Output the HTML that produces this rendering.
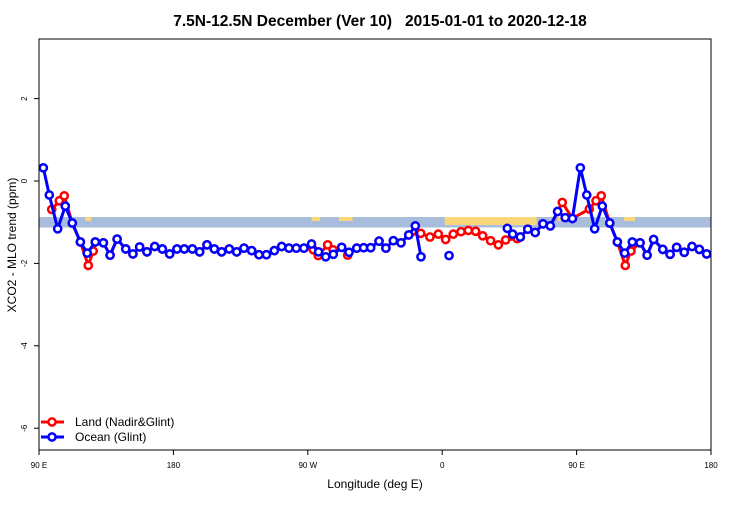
<!DOCTYPE html>
<html><head><meta charset="utf-8"><style>
body{margin:0;background:#fff;}
svg{font-family:"Liberation Sans",sans-serif;}
</style></head><body>
<svg id="chart" width="750" height="500" xmlns="http://www.w3.org/2000/svg">
<text x="380" y="26" text-anchor="middle" font-size="15.5" font-weight="bold" xml:space="preserve">7.5N-12.5N December (Ver 10)   2015-01-01 to 2020-12-18</text>
<g id="band"></g>
<g id="plot"></g>
<rect x="39" y="39" width="672" height="411" fill="none" stroke="#000" stroke-width="1"/>
<g id="axes"></g>
<text x="375" y="488" text-anchor="middle" font-size="12">Longitude (deg E)</text>
<text transform="translate(16,245) rotate(-90)" text-anchor="middle" font-size="12">XCO2 - MLO trend (ppm)</text>
<g>
<g>
<line x1="41" y1="422" x2="64" y2="422" stroke="#f00" stroke-width="3"/><circle cx="52" cy="422" r="3.6" fill="#fff" stroke="#f00" stroke-width="2.5"/>
<text x="75" y="426" font-size="12">Land (Nadir&amp;Glint)</text></g>
<g>
<line x1="41" y1="437" x2="64" y2="437" stroke="#00f" stroke-width="3"/><circle cx="52" cy="437" r="3.6" fill="#fff" stroke="#00f" stroke-width="2.5"/>
<text x="75" y="441" font-size="12">Ocean (Glint)</text></g>
</g>
</svg>
<script>
const xTickLons=[90,180,270,360,450,540];
const xTickLabels=["90 E","180","90 W","0","90 E","180"];
const yTicks=[2,0,-2,-4,-6];
const oceanLon=[92.9,96.9,102.5,107.6,112.3,117.7,122.3,127.7,133.1,137.6,142.3,148.1,152.9,157.4,162.3,167.5,172.6,177.5,182.4,187.3,192.7,197.6,202.5,207.4,212.3,217.4,222.4,227.3,232.4,237.3,242.3,247.6,252.5,257.4,262.3,267.4,272.5,277.2,282.0,287.1,292.7,297.6,302.8,307.4,312.1,317.7,322.3,327.3,332.4,337.6,342.0,345.8,350.8,364.6,381.7,403.6,407.2,412.3,417.3,422.3,427.5,432.4,437.3,442.4,447.2,452.5,456.8,462.1,467.2,472.2,477.3,482.2,487.3,492.5,497.2,501.6,507.7,512.6,517.0,522.1,527.3,532.2,537.1];
const oceanVal=[0.32,-0.34,-1.16,-0.61,-1.02,-1.48,-1.75,-1.48,-1.50,-1.80,-1.41,-1.65,-1.77,-1.60,-1.72,-1.59,-1.65,-1.77,-1.65,-1.65,-1.65,-1.72,-1.55,-1.65,-1.72,-1.65,-1.72,-1.63,-1.69,-1.79,-1.79,-1.69,-1.59,-1.63,-1.63,-1.63,-1.53,-1.72,-1.84,-1.78,-1.61,-1.73,-1.63,-1.62,-1.62,-1.46,-1.63,-1.45,-1.50,-1.31,-1.09,-1.84,null,-1.81,null,-1.15,-1.29,-1.36,-1.17,-1.25,-1.04,-1.09,-0.74,-0.89,-0.91,0.32,-0.34,-1.16,-0.61,-1.02,-1.48,-1.75,-1.48,-1.50,-1.80,-1.42,-1.66,-1.78,-1.61,-1.73,-1.59,-1.66,-1.77];
const landLon=[98.5,103.6,106.9,112.3,117.7,123.0,126.3,127.7,133.1,137.6,142.3,148.1,152.9,157.4,162.3,167.5,172.6,177.5,182.4,187.3,192.7,197.6,202.5,207.4,212.3,217.4,222.4,227.3,232.4,237.3,242.3,247.6,252.5,257.4,262.3,267.4,273.7,277.0,283.3,286.9,292.7,296.7,302.8,307.4,312.1,317.7,322.3,327.3,332.4,337.6,345.6,351.8,357.4,362.3,367.4,372.6,377.5,382.4,387.1,392.4,397.6,402.5,410.3,412.3,417.3,422.3,427.5,432.4,437.3,440.4,447.2,458.5,463.0,466.5,472.2,477.3,482.6,486.4,492.5,497.2,501.6,507.7,512.6,517.0,522.1,527.3,532.2,537.1];
const landVal=[-0.69,-0.48,-0.36,-1.02,-1.48,-2.05,-1.70,-1.48,-1.50,-1.80,-1.41,-1.65,-1.77,-1.60,-1.72,-1.59,-1.65,-1.77,-1.65,-1.65,-1.65,-1.72,-1.55,-1.65,-1.72,-1.65,-1.72,-1.63,-1.69,-1.79,-1.79,-1.69,-1.59,-1.63,-1.63,-1.63,-1.67,-1.81,-1.55,-1.67,-1.61,-1.80,-1.63,-1.62,-1.62,-1.46,-1.63,-1.45,-1.50,-1.31,-1.27,-1.36,-1.29,-1.42,-1.29,-1.23,-1.20,-1.22,-1.33,-1.45,-1.55,-1.43,-1.40,-1.36,-1.17,-1.25,-1.04,-1.09,-0.74,-0.52,-0.91,-0.68,-0.48,-0.36,-1.02,-1.48,-2.05,-1.70,-1.50,-1.80,-1.42,-1.66,-1.78,-1.61,-1.73,-1.59,-1.66,-1.77];
const landLonStart=[103.3,120.8,272.5,290.8,361.7,437.5,469.2,481.7];
const landLonEnd=[105,125,278.3,300,423.3,444.2,470.8,489.2];

const NS="http://www.w3.org/2000/svg";
const X=l=>39+(l-90)*672/450;
const Y=v=>181-v*41.2;
function mk(t,a,p){const e=document.createElementNS(NS,t);for(const k in a)e.setAttribute(k,a[k]);p.appendChild(e);return e;}
const band=document.getElementById('band'),plot=document.getElementById('plot'),axes=document.getElementById('axes');
const br=mk('rect',{x:39,y:217,width:672,height:10.5,fill:'#a7bddb'},band);


landLonStart.forEach((s,i)=>{const r=mk('rect',{x:X(s),y:217,width:X(landLonEnd[i])-X(s),height:i==4?8:4,fill:'#fbd77b'},band);

});
xTickLons.forEach((l,i)=>{mk('line',{x1:X(l),x2:X(l),y1:450,y2:455,stroke:'#000'},axes);
const t=mk('text',{x:X(l),y:468,'text-anchor':'middle','font-size':8},axes);t.textContent=xTickLabels[i];

});
yTicks.forEach(v=>{mk('line',{x1:34,x2:39,y1:Y(v),y2:Y(v),stroke:'#000'},axes);
const t=mk('text',{transform:`translate(27,${Y(v)}) rotate(-90)`,'text-anchor':'middle','font-size':8},axes);t.textContent=v;

});
function series(lons,vals,col,name){
  const g=mk('g',{},plot);
  
  
  let d='',pen=false;
  lons.forEach((l,i)=>{const v=vals[i];if(v==null){pen=false;return;}
    const nxt=vals[i+1];
    if(!pen){ if(nxt!=null||vals[i-1]!=null) d+=`M${X(l)},${Y(v)}`; }
    else d+=`L${X(l)},${Y(v)}`;
    pen=true;});
  mk('path',{d:d,fill:'none',stroke:col,'stroke-width':3,'stroke-linejoin':'round'},g);
  lons.forEach((l,i)=>{if(vals[i]==null)return;
    const c=mk('circle',{cx:X(l),cy:Y(vals[i]),r:3.6,fill:'#fff',stroke:col,'stroke-width':2.5},g);
    
    });
}
series(landLon,landVal,'#f00','land-series');
series(oceanLon,oceanVal,'#00f','ocean-series');
</script>
</body></html>
